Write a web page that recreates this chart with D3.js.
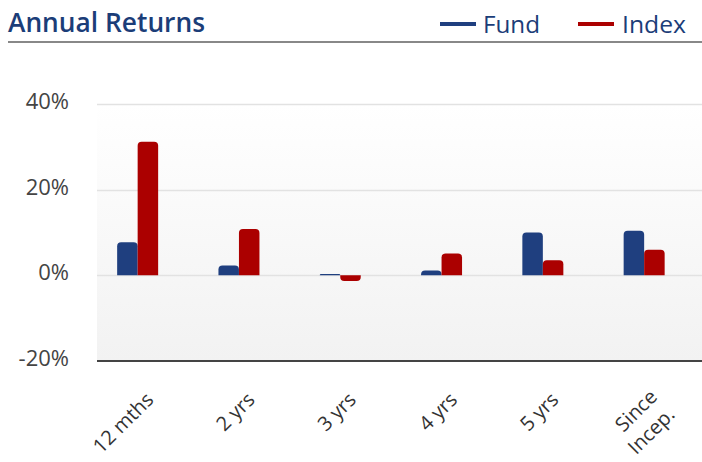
<!DOCTYPE html>
<html><head><meta charset="utf-8">
<script src="https://cdn.jsdelivr.net/npm/d3@7"></script>
<style>
html,body{margin:0;padding:0;background:#fff;}
svg{display:block;font-family:"Open Sans",sans-serif;}
</style></head>
<body>
<svg id="c" width="702" height="462"></svg>
<script>
const categories = ["12 mths","2 yrs","3 yrs","4 yrs","5 yrs","Since Incep."];
const seriesNames = ["Fund","Index"];
const fundValues = [7.7, 2.3, 0.3, 1.1, 10.0, 10.4];
const indexValues = [31.2, 10.8, -1.3, 5.1, 3.5, 6.0];
const yTicks = [-20, 0, 20, 40];
const colors = ["#1f3f7f", "#ab0000"];

const svg = d3.select("#c");
const plotL = 97, plotR = 702, plotT = 104, plotB = 361;

const y = d3.scaleLinear().domain([-20, 40]).range([plotB, plotT]);
const step = 101.3;
const x = d3.scaleBand().domain(categories).range([87, 87 + step*6])
  .paddingInner(1 - 41/step).paddingOuter((1 - 41/step)/2);
const xs = d3.scaleBand().domain(seriesNames).range([0, x.bandwidth()]);

// background gradient
const defs = svg.append("defs");
const g = defs.append("linearGradient").attr("id","bg").attr("x1",0).attr("y1",0).attr("x2",0).attr("y2",1);
g.append("stop").attr("offset","0%").attr("stop-color","#ffffff");
g.append("stop").attr("offset","100%").attr("stop-color","#f2f2f2");
svg.append("rect").attr("x",plotL).attr("y",plotT).attr("width",plotR-plotL).attr("height",plotB-plotT).attr("fill","url(#bg)");

// title
svg.append("text").attr("x",8).attr("y",32).attr("fill","#1b3d78")
  .attr("font-size",27).attr("font-weight",600).attr("textLength",197).attr("lengthAdjust","spacingAndGlyphs")
  .text("Annual Returns");
svg.append("line").attr("x1",8).attr("x2",702).attr("y1",42).attr("y2",42).attr("stroke","#888").attr("stroke-width",2);

// legend
const legend = [{name:"Fund",lx:440,tx:483,tw:57},{name:"Index",lx:578,tx:622,tw:64}];
legend.forEach((d,i)=>{
  svg.append("rect").attr("x",d.lx).attr("y",22).attr("width",36).attr("height",4).attr("fill",colors[i]);
  svg.append("text").attr("x",d.tx).attr("y",33).attr("fill","#1b3d78").attr("font-size",24)
    .attr("textLength",d.tw).attr("lengthAdjust","spacingAndGlyphs").text(d.name);
});

// grid
svg.append("g").selectAll("line").data(yTicks.filter(t=>t!==-20)).join("line")
  .attr("x1",plotL).attr("x2",plotR).attr("y1",d=>Math.round(y(d))+0.5).attr("y2",d=>Math.round(y(d))+0.5)
  .attr("stroke","#e2e2e2").attr("stroke-width",1.5);

// y axis labels
const yAxis = d3.axisLeft(y).tickValues(yTicks).tickFormat(d=>d+"%").tickSize(0).tickPadding(0);
const ya = svg.append("g").attr("transform",`translate(69,0)`).call(yAxis);
ya.select(".domain").remove();
ya.selectAll("text").attr("font-size",22).attr("fill","#444").attr("font-family","'Open Sans',sans-serif").attr("dy","0.2em");

// bars
function barPath(x0, w, v){
  const y0 = y(0), y1 = y(v);
  const h = Math.abs(y1 - y0);
  const r = Math.min(4, h, w/2);
  if (v >= 0) {
    return `M${x0},${y0}V${y1+r}Q${x0},${y1} ${x0+r},${y1}H${x0+w-r}Q${x0+w},${y1} ${x0+w},${y1+r}V${y0}Z`;
  } else {
    return `M${x0},${y0}V${y1-r}Q${x0},${y1} ${x0+r},${y1}H${x0+w-r}Q${x0+w},${y1} ${x0+w},${y1-r}V${y0}Z`;
  }
}
const data = [];
categories.forEach((c,i)=>{
  data.push({c, s:"Fund", v:fundValues[i], col:colors[0]});
  data.push({c, s:"Index", v:indexValues[i], col:colors[1]});
});
svg.append("g").selectAll("path").data(data).join("path")
  .attr("d",d=>barPath(x(d.c)+xs(d.s), xs.bandwidth(), d.v))
  .attr("fill",d=>d.col);

// bottom axis line
svg.append("line").attr("x1",plotL).attr("x2",plotR).attr("y1",361).attr("y2",361).attr("stroke","#444").attr("stroke-width",2);

// x labels
const xl = svg.append("g");
categories.forEach(c=>{
  const cx = x(c) + x.bandwidth()/2;
  const lines = c === "Since Incep." ? ["Since","Incep."] : [c];
  const t = xl.append("text").attr("text-anchor","end").attr("font-size",20).attr("fill","#333")
    .attr("transform",`translate(${cx+17},${401}) rotate(-45)`);
  lines.forEach((ln,k)=>{
    t.append("tspan").attr("x",0).attr("dy", k===0 ? (lines.length>1? "-0.2em":"0") : "1.25em").text(ln);
  });
});
</script>
</body></html>
